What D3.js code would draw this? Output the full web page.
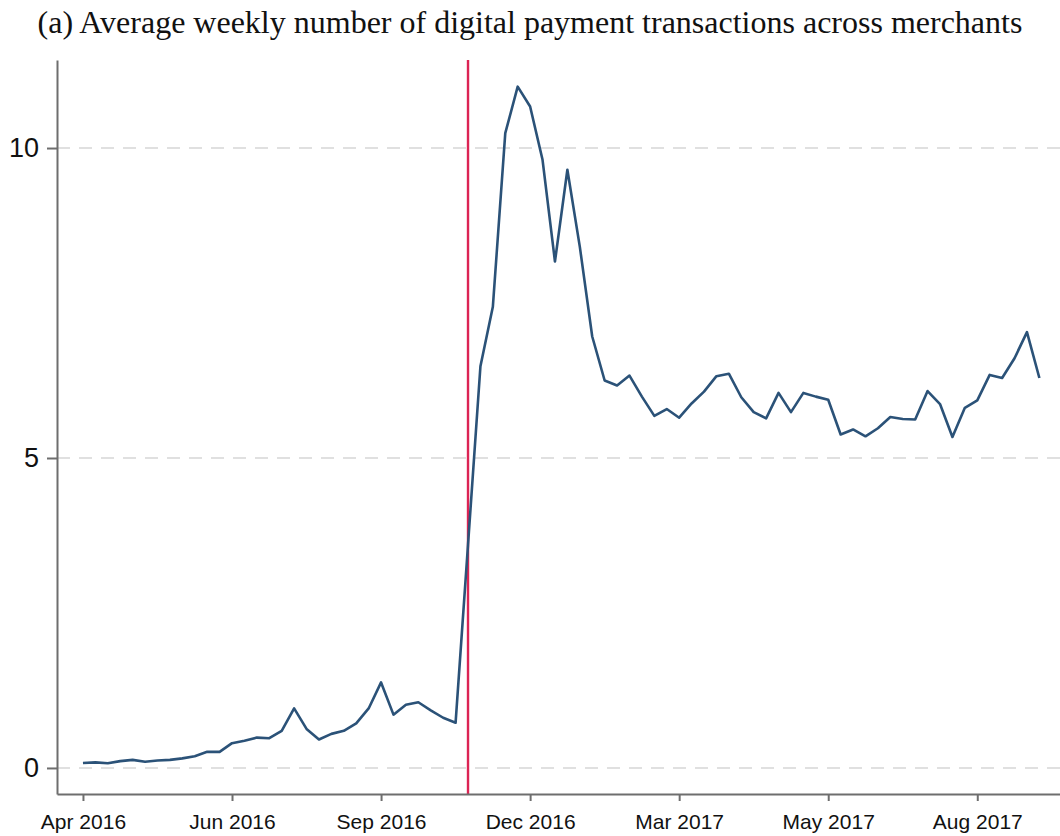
<!DOCTYPE html>
<html>
<head>
<meta charset="utf-8">
<script src="https://cdn.jsdelivr.net/npm/d3@7"></script>
<style>
body { margin: 0; background: #fff; }
.title { font-family: "Liberation Serif", "DejaVu Serif", serif; font-size: 32px; fill: #111; }
.axis path, .axis line { stroke: #6e6e6e; stroke-width: 2px; }
.axis text { font-family: "Liberation Sans", Arial, sans-serif; fill: #111; }
.axis--x text { font-size: 21px; }
.axis--y text { font-size: 27px; }
.grid line { stroke: #e0e0e0; stroke-width: 2px; stroke-dasharray: 13 9; }
.line { fill: none; stroke: #2b5278; stroke-width: 2.6px; stroke-linejoin: round; }
.event { stroke: #dc2454; stroke-width: 2.4px; }
</style>
</head>
<body>
<svg id="chart" width="1060" height="836"></svg>
<script>
// weekly averages, week 0 = first week of Apr 2016
var weeks = d3.range(78);
var txns = [
  0.08, 0.09, 0.075, 0.11, 0.13, 0.10, 0.12, 0.13, 0.155, 0.19,
  0.26, 0.26, 0.40, 0.44, 0.49, 0.48, 0.60, 0.96, 0.63, 0.46,
  0.55, 0.60, 0.72, 0.96, 1.38, 0.86, 1.02, 1.06, 0.93, 0.81,
  0.73, 3.60, 6.48, 7.44, 10.24, 10.99, 10.67, 9.81, 8.17, 9.65,
  8.41, 6.96, 6.25, 6.17, 6.33, 5.99, 5.68, 5.79, 5.65, 5.88,
  6.07, 6.32, 6.36, 5.98, 5.74, 5.64, 6.05, 5.74, 6.05, 5.99,
  5.94, 5.38, 5.46, 5.35, 5.48, 5.66, 5.63, 5.62, 6.08, 5.87,
  5.34, 5.81, 5.93, 6.34, 6.29, 6.61, 7.03, 6.29
];
var tickWeeks = [0, 12, 24, 36, 48, 60, 72];
var tickLabels = ["Apr 2016", "Jun 2016", "Sep 2016", "Dec 2016", "Mar 2017", "May 2017", "Aug 2017"];
var yTicks = [0, 5, 10];
var eventWeek = 31; // demonetisation announcement

var svg = d3.select("#chart");
var plot = {left: 57, right: 1060, top: 60, bottom: 794};

var x = d3.scaleLinear().domain([-2.09, 78.66]).range([plot.left, plot.right]);
var y = d3.scaleLinear().domain([-0.42, 11.42]).range([plot.bottom, plot.top]);

svg.append("text")
  .attr("class", "title")
  .attr("x", 530).attr("y", 33)
  .attr("text-anchor", "middle")
  .text("(a) Average weekly number of digital payment transactions across merchants");

/// dashed gridlines
svg.append("g").attr("class", "grid")
  .selectAll("line").data(yTicks).join("line")
  .attr("x1", plot.left).attr("x2", plot.right)
  .attr("y1", function(d) { return y(d); })
  .attr("y2", function(d) { return y(d); });

/// vertical event line
svg.append("line").attr("class", "event")
  .attr("x1", x(eventWeek)).attr("x2", x(eventWeek))
  .attr("y1", plot.top).attr("y2", plot.bottom);

var line = d3.line()
  .x(function(d, i) { return x(weeks[i]); })
  .y(function(d) { return y(d); });

svg.append("path").datum(txns)
  .attr("class", "line")
  .attr("d", line);

/// axes
var xAxis = d3.axisBottom(x)
  .tickValues(tickWeeks)
  .tickFormat(function(d, i) { return tickLabels[i]; })
  .tickSize(7).tickSizeOuter(0).tickPadding(13);

svg.append("g").attr("class", "axis axis--x")
  .attr("transform", "translate(0," + plot.bottom + ")")
  .call(xAxis);

var yAxis = d3.axisLeft(y)
  .tickValues(yTicks).tickFormat(d3.format("d"))
  .tickSize(10).tickSizeOuter(0).tickPadding(8);

svg.append("g").attr("class", "axis axis--y")
  .attr("transform", "translate(" + plot.left + ",0)")
  .call(yAxis);
</script>
</body>
</html>
